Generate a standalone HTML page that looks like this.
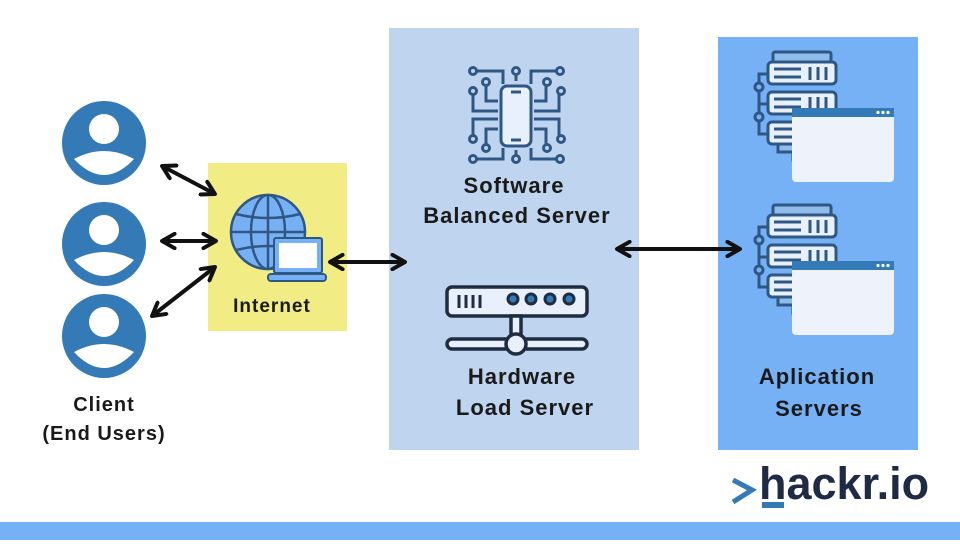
<!DOCTYPE html>
<html><head><meta charset="utf-8"><style>
body{margin:0;width:960px;height:540px;overflow:hidden;background:#fff}
text{font-family:"Liberation Sans",sans-serif;font-weight:bold;fill:#1a1a1a;letter-spacing:1px}
</style></head><body>
<svg width="960" height="540" viewBox="0 0 960 540" xmlns="http://www.w3.org/2000/svg">
<defs>
<marker id="ah" viewBox="0 0 10 10" refX="8" refY="5" markerWidth="4.5" markerHeight="4.5" orient="auto-start-reverse"><path d="M1,1 L8,5 L1,9" fill="none" stroke="#111" stroke-width="2.2" stroke-linecap="round" stroke-linejoin="round"/></marker>
<g id="user"><circle r="42" fill="#337ab7"/><circle cy="-14" r="15" fill="#fff"/><path d="M-30,16 Q0,0 30,16 Q0,48 -30,16Z" fill="#fff"/></g>
<g id="srv">
<rect x="0" y="0" width="58" height="10" rx="2" fill="#8fbcea" stroke="#2e5784" stroke-width="3"/>
<rect x="-5" y="10" width="68" height="22" rx="4" fill="#e8f0fb" stroke="#2e5784" stroke-width="3"/>
<rect x="-5" y="40" width="68" height="22" rx="4" fill="#e8f0fb" stroke="#2e5784" stroke-width="3"/>
<rect x="-5" y="70" width="68" height="22" rx="4" fill="#e8f0fb" stroke="#2e5784" stroke-width="3"/>
<rect x="5" y="92" width="48" height="8" fill="#8fbcea" stroke="#2e5784" stroke-width="3"/>
<rect x="20" y="100" width="12" height="8" fill="#e8f0fb" stroke="#2e5784" stroke-width="3"/>
<path d="M-5,22 H-14 V82 H-5 M-14,52 H-5" fill="none" stroke="#2e5784" stroke-width="3"/>
<circle cx="-14" cy="35" r="4" fill="#76b0f5" stroke="#2e5784" stroke-width="3"/>
<circle cx="-14" cy="65" r="4" fill="#76b0f5" stroke="#2e5784" stroke-width="3"/>
<g stroke="#2e5784" stroke-width="3"><path d="M1,17 H28 M1,25 H28 M1,47 H28 M1,55 H28 M1,77 H28 M1,85 H28 M37,15 V28 M45,15 V28 M53,15 V28 M37,45 V58 M45,45 V58 M53,45 V58"/></g>
<rect x="19" y="56" width="102" height="74" rx="4" fill="#eef3fb"/>
<rect x="19" y="56" width="102" height="9" fill="#337ab7"/>
<circle cx="105" cy="60.5" r="1.6" fill="#fff"/><circle cx="110" cy="60.5" r="1.6" fill="#fff"/><circle cx="115" cy="60.5" r="1.6" fill="#fff"/>
</g>
</defs>
<rect x="0" y="522" width="960" height="18" fill="#76b0f5"/>
<rect x="208" y="163" width="139" height="168" fill="#f2ec84"/>
<rect x="389" y="28" width="250" height="422" fill="#bfd5ef"/>
<rect x="718" y="37" width="200" height="413" fill="#76b0f5"/>

<use href="#user" x="104" y="143"/>
<use href="#user" x="104" y="244"/>
<use href="#user" x="104" y="336"/>
<text x="104" y="411" font-size="20" text-anchor="middle">Client</text>
<text x="104" y="440" font-size="20" text-anchor="middle">(End Users)</text>

<g stroke="#111" stroke-width="4" marker-start="url(#ah)" marker-end="url(#ah)">
<line x1="162" y1="166" x2="215" y2="194"/>
<line x1="162" y1="241" x2="216" y2="241"/>
<line x1="152" y1="316" x2="215" y2="267"/>
<line x1="330" y1="262" x2="405" y2="262"/>
<line x1="617" y1="249" x2="740" y2="249"/>
</g>

<g stroke="#2e5784" stroke-width="2.5" fill="none">
<circle cx="268" cy="232" r="37" fill="#76b0f5"/>
<ellipse cx="268" cy="232" rx="17" ry="37"/>
<line x1="268" y1="195" x2="268" y2="269"/><line x1="231" y1="232" x2="305" y2="232"/>
<path d="M236,214 Q268,222 300,214 M236,250 Q268,242 300,250"/>
</g>
<rect x="274" y="238" width="48" height="35" rx="2" fill="#76b0f5" stroke="#2e5784" stroke-width="2"/>
<rect x="279" y="243" width="38" height="25" fill="#fff"/>
<rect x="268" y="274" width="58" height="7" rx="3" fill="#76b0f5" stroke="#2e5784" stroke-width="2"/>
<text x="272" y="312" font-size="19" text-anchor="middle">Internet</text>

<g stroke="#2e5784" stroke-width="3" fill="none">
<rect x="501" y="86" width="30" height="60" rx="6" fill="#e8f0fb"/>
<line x1="511" y1="92" x2="521" y2="92"/><line x1="511" y1="140" x2="521" y2="140"/>
<path d="M474,71 H503 V84 M516,72 V81 M558,71 H531 V84 M486,82 V101 H498 M546,82 V101 H534 M473,91 V111 H498 M559,91 V111 H534 M473,139 V119 H498 M559,139 V119 H534 M486,148 V129 H498 M546,148 V129 H534 M474,159 H503 V148 M558,159 H531 V148 M516,150 V158"/>
<g fill="#bfd5ef"><circle cx="473" cy="71" r="3.5"/><circle cx="516" cy="71" r="3.5"/><circle cx="560" cy="71" r="3.5"/><circle cx="486" cy="82" r="3.5"/><circle cx="547" cy="82" r="3.5"/><circle cx="473" cy="91" r="3.5"/><circle cx="561" cy="91" r="3.5"/><circle cx="473" cy="139" r="3.5"/><circle cx="561" cy="139" r="3.5"/><circle cx="486" cy="148" r="3.5"/><circle cx="547" cy="148" r="3.5"/><circle cx="473" cy="159" r="3.5"/><circle cx="516" cy="159" r="3.5"/><circle cx="560" cy="159" r="3.5"/></g>
</g>
<text x="514" y="193" font-size="22" text-anchor="middle">Software</text>
<text x="517" y="223" font-size="22" text-anchor="middle">Balanced Server</text>

<g stroke="#1f2d40" stroke-width="3.5">
<rect x="447" y="287" width="140" height="29" rx="5" fill="#e8f0fb"/>
<path d="M459,295 V308 M466,295 V308 M473,295 V308 M480,295 V308" stroke-width="3"/>
<g fill="#337ab7" stroke-width="3"><circle cx="513" cy="299" r="5"/><circle cx="531" cy="299" r="5"/><circle cx="550" cy="299" r="5"/><circle cx="569" cy="299" r="5"/></g>
<rect x="511" y="316" width="10" height="20" fill="#e8f0fb"/>
<rect x="447" y="339" width="140" height="10" rx="5" fill="#e8f0fb"/>
<circle cx="516" cy="344" r="10" fill="#e8f0fb"/>
</g>
<text x="522" y="384" font-size="22" text-anchor="middle">Hardware</text>
<text x="525" y="415" font-size="22" text-anchor="middle">Load Server</text>

<use href="#srv" x="773" y="52"/>
<use href="#srv" x="773" y="205"/>
<text x="817" y="384" font-size="22" text-anchor="middle">Aplication</text>
<text x="819" y="416" font-size="22" text-anchor="middle">Servers</text>

<path d="M733,480 L752,490 L733,502" fill="none" stroke="#337ab7" stroke-width="5"/>
<rect x="762" y="502" width="22" height="6" fill="#337ab7"/>
<text x="759" y="499" font-size="45" style="fill:#1f2a44;letter-spacing:0">hackr.io</text>
</svg>
</body></html>
